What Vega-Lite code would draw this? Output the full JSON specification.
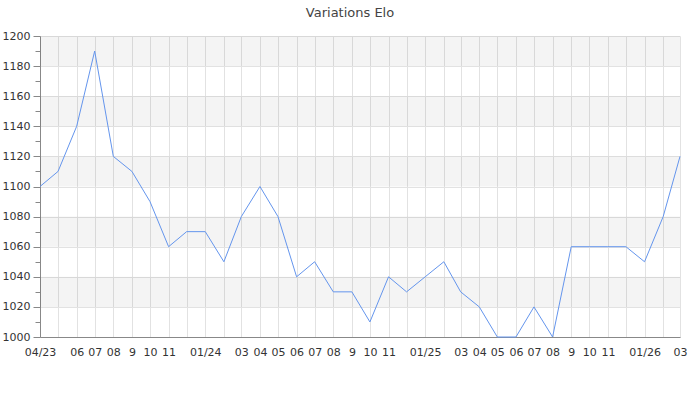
{
  "$schema": "https://vega.github.io/schema/vega-lite/v6.json",
  "width": 640,
  "height": 301,
  "autosize": {"type": "none"},
  "padding": {"left": 40, "top": 36, "right": 20, "bottom": 63},
  "background": "white",
  "title": {
    "text": "Variations Elo",
    "font": "DejaVu Sans",
    "fontSize": 13,
    "fontWeight": "normal",
    "color": "#444",
    "dx": -10,
    "offset": -3,
    "baseline": "bottom"
  },
  "config": {
    "view": {"stroke": null},
    "axis": {"labelFont": "DejaVu Sans", "labelFontSize": 11, "labelColor": "#333", "domainColor": "#888", "tickColor": "#888", "gridColor": "#e2e2e2", "labelOverlap": false}
  },
  "layer": [
    {
      "data": {"values": [
        {"lo": 1020, "hi": 1040},
        {"lo": 1060, "hi": 1080},
        {"lo": 1100, "hi": 1120},
        {"lo": 1140, "hi": 1160},
        {"lo": 1180, "hi": 1200}
      ]},
      "mark": {"type": "rect", "color": "#000", "opacity": 0.045},
      "encoding": {
        "y": {
          "field": "lo",
          "type": "quantitative",
          "scale": {"domain": [1000, 1200], "nice": false, "zero": false},
          "axis": {
            "title": null,
            "values": [1000, 1010, 1020, 1030, 1040, 1050, 1060, 1070, 1080, 1090, 1100, 1110, 1120, 1130, 1140, 1150, 1160, 1170, 1180, 1190, 1200],
            "labelExpr": "datum.value % 20 == 0 ? datum.label : ''",
            "format": "d",
            "labelPadding": 3,
            "labelOverlap": false,
            "tickSize": {"condition": {"test": "datum.value % 20 == 0", "value": 7}, "value": 5},
            "gridOpacity": {"condition": {"test": "datum.value % 20 == 0", "value": 1}, "value": 0}
          }
        },
        "y2": {"field": "hi"}
      }
    },
    {
      "data": {"values": [
        {"date": "2023-04-01", "elo": 1100},
        {"date": "2023-05-01", "elo": 1110},
        {"date": "2023-06-01", "elo": 1140},
        {"date": "2023-07-01", "elo": 1190},
        {"date": "2023-08-01", "elo": 1120},
        {"date": "2023-09-01", "elo": 1110},
        {"date": "2023-10-01", "elo": 1090},
        {"date": "2023-11-01", "elo": 1060},
        {"date": "2023-12-01", "elo": 1070},
        {"date": "2024-01-01", "elo": 1070},
        {"date": "2024-02-01", "elo": 1050},
        {"date": "2024-03-01", "elo": 1080},
        {"date": "2024-04-01", "elo": 1100},
        {"date": "2024-05-01", "elo": 1080},
        {"date": "2024-06-01", "elo": 1040},
        {"date": "2024-07-01", "elo": 1050},
        {"date": "2024-08-01", "elo": 1030},
        {"date": "2024-09-01", "elo": 1030},
        {"date": "2024-10-01", "elo": 1010},
        {"date": "2024-11-01", "elo": 1040},
        {"date": "2024-12-01", "elo": 1030},
        {"date": "2025-01-01", "elo": 1040},
        {"date": "2025-02-01", "elo": 1050},
        {"date": "2025-03-01", "elo": 1030},
        {"date": "2025-04-01", "elo": 1020},
        {"date": "2025-05-01", "elo": 1000},
        {"date": "2025-06-01", "elo": 1000},
        {"date": "2025-07-01", "elo": 1020},
        {"date": "2025-08-01", "elo": 1000},
        {"date": "2025-09-01", "elo": 1060},
        {"date": "2025-10-01", "elo": 1060},
        {"date": "2025-11-01", "elo": 1060},
        {"date": "2025-12-01", "elo": 1060},
        {"date": "2026-01-01", "elo": 1050},
        {"date": "2026-02-01", "elo": 1080},
        {"date": "2026-03-01", "elo": 1120}
      ]},
      "mark": {"type": "line", "color": "#6495ed", "strokeWidth": 1},
      "encoding": {
        "x": {
          "field": "date",
          "type": "temporal",
          "scale": {"type": "utc", "domain": ["2023-04-01", "2026-03-01"], "nice": false},
          "axis": {
            "title": null,
            "tickCount": {"interval": "month", "step": 1},
            "ticks": false,
            "tickSize": 0,
            "labelPadding": 9,
            "labelOverlap": false,
            "labelFlush": false,
            "grid": true,
            "labelExpr": "utcyear(datum.value) == 2023 && utcmonth(datum.value) == 3 || utcmonth(datum.value) == 0 ? utcFormat(datum.value, '%m/%y') : ((utcyear(datum.value) == 2023 && utcmonth(datum.value) == 4) || utcmonth(datum.value) == 1 || utcmonth(datum.value) == 11 ? '' : (utcmonth(datum.value) == 8 ? '9' : utcFormat(datum.value, '%m')))"
          }
        },
        "y": {
          "field": "elo",
          "type": "quantitative",
          "scale": {"domain": [1000, 1200], "nice": false, "zero": false},
          "axis": {
            "title": null,
            "values": [1000, 1010, 1020, 1030, 1040, 1050, 1060, 1070, 1080, 1090, 1100, 1110, 1120, 1130, 1140, 1150, 1160, 1170, 1180, 1190, 1200],
            "labelExpr": "datum.value % 20 == 0 ? datum.label : ''",
            "format": "d",
            "labelPadding": 3,
            "labelOverlap": false,
            "tickSize": {"condition": {"test": "datum.value % 20 == 0", "value": 7}, "value": 5},
            "gridOpacity": {"condition": {"test": "datum.value % 20 == 0", "value": 1}, "value": 0}
          }
        }
      }
    }
  ]
}
